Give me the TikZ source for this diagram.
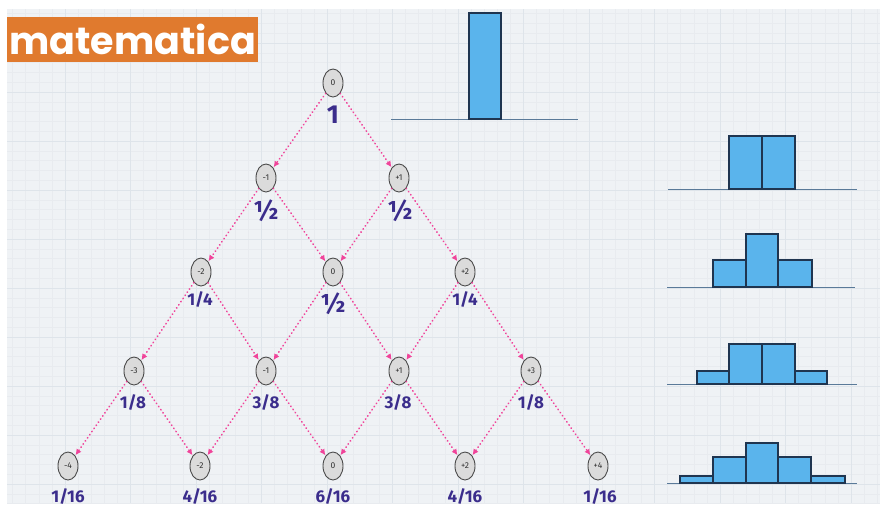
\documentclass[tikz,border=0pt]{standalone}
\usepackage{fontspec}
\setmainfont{Fira Sans}
\newfontfamily\logofont{Poppins}
\usetikzlibrary{shapes.geometric,arrows.meta}
\definecolor{paper}{HTML}{EFF2F5}
\definecolor{minorline}{HTML}{E8EBEF}
\definecolor{majorline}{HTML}{DEE4EA}
\definecolor{logoorange}{HTML}{E07A2E}
\definecolor{linkpink}{HTML}{F0449A}
\definecolor{probink}{HTML}{3B2D8C}
\definecolor{barfill}{HTML}{5AB4EC}
\definecolor{baredge}{HTML}{1F3550}
\definecolor{axisline}{HTML}{5A7A99}
\tikzset{
  site/.style={ellipse, draw=black!70, fill=black!14, line width=0.9pt,
    minimum width=20pt, minimum height=28pt, inner sep=0pt,
    font=\fontsize{8.5}{8.5}\selectfont, text=black!80},
  link/.style={draw=linkpink, line width=1.7pt, line cap=round,
    dash pattern=on 0.4pt off 3.4pt,
    -{Latex[length=6pt,width=6pt,fill=linkpink]}, shorten >=0.5pt},
  prob/.style={text=probink, font=\bfseries\fontsize{17}{17}\selectfont, inner sep=0pt},
  bigprob/.style={text=probink, font=\bfseries\fontsize{26}{26}\selectfont, inner sep=0pt},
  bar/.style={fill=barfill, draw=baredge, line width=1.1pt},
  axis/.style={draw=axisline, line width=1pt},
}
\begin{document}
\begin{tikzpicture}[x=1pt,y=-1pt]
\useasboundingbox (0,0) rectangle (880,507);
\fill[white] (0,0) rectangle (880,507);
% squared paper
\fill[paper] (7,9) rectangle (880,503);
\begin{scope}
  \clip (7,9) rectangle (880,503);
  \foreach \k in {-5,...,63}
    \draw[minorline, line width=0.5pt] ({65+13.1*\k},9) -- ({65+13.1*\k},503);
  \foreach \k in {-4,...,47}
    \draw[minorline, line width=0.5pt] (7,{43+9.8*\k}) -- (880,{43+9.8*\k});
  \foreach \k in {-1,...,12}
    \draw[majorline, line width=0.9pt] ({65+65.5*\k},9) -- ({65+65.5*\k},503);
  \foreach \k in {-1,...,9}
    \draw[majorline, line width=0.9pt] (7,{43+49*\k}) -- (880,{43+49*\k});
\end{scope}

% title tag
\node[fill=logoorange, minimum width=251pt, minimum height=45pt, inner sep=0pt,
      anchor=north west] (logo) at (7,17) {};
\node[text=white, font=\logofont\bfseries\fontsize{38}{38}\selectfont, inner sep=0pt]
  (logotext) at (logo.center) {matematica};

% random-walk lattice
\node[site] (n00) at (333,83) {0};
\node[site] (n10) at (266,178) {-1};
\node[site] (n11) at (399,178) {+1};
\node[site] (n20) at (201,272) {-2};
\node[site] (n21) at (333,272) {0};
\node[site] (n22) at (465,272) {+2};
\node[site] (n30) at (134,371) {-3};
\node[site] (n31) at (266,371) {-1};
\node[site] (n32) at (399,371) {+1};
\node[site] (n33) at (531,371) {+3};
\node[site] (n40) at (68,466) {-4};
\node[site] (n41) at (200,466) {-2};
\node[site] (n42) at (333,466) {0};
\node[site] (n43) at (465,466) {+2};
\node[site] (n44) at (598,466) {+4};

% each site steps left and right to the next row
\foreach \a/\b/\c in {00/10/11, 10/20/21, 11/21/22,
                      20/30/31, 21/31/32, 22/32/33,
                      30/40/41, 31/41/42, 32/42/43, 33/43/44} {
  \draw[link] (n\a) -- (n\b);
  \draw[link] (n\a) -- (n\c);
}

% probabilities
\node[bigprob] (p00) at (333,115) {1};
\node[bigprob] (p10) at (266,211) {½};
\node[bigprob] (p11) at (400,211) {½};
\node[prob] (p20) at (200,300) {1/4};
\node[bigprob] (p21) at (333,304) {½};
\node[prob] (p22) at (465,300) {1/4};
\node[prob] (p30) at (133,403) {1/8};
\node[prob] (p31) at (266,403) {3/8};
\node[prob] (p32) at (398,403) {3/8};
\node[prob] (p33) at (531,403) {1/8};
\node[prob] (p40) at (68,497) {1/16};
\node[prob] (p41) at (200,497) {4/16};
\node[prob] (p42) at (333,497) {6/16};
\node[prob] (p43) at (465,497) {4/16};
\node[prob] (p44) at (600,497) {1/16};

% histograms of the distribution after each step
\draw[axis] (391,119) -- (578,119);
\draw[bar] (469,119) rectangle (501,13);

\draw[axis] (668,189) -- (857,189);
\draw[bar] (729,189) rectangle (762,136);
\draw[bar] (762,189) rectangle (795,136);

\draw[axis] (667,287) -- (855,287);
\draw[bar] (713,287) rectangle (746,260);
\draw[bar] (746,287) rectangle (778,234);
\draw[bar] (778,287) rectangle (812,260);

\draw[axis] (667,384) -- (857,384);
\draw[bar] (697,384) rectangle (729,371);
\draw[bar] (729,384) rectangle (762,344);
\draw[bar] (762,384) rectangle (795,344);
\draw[bar] (795,384) rectangle (827,371);

\draw[axis] (667,483) -- (857,483);
\draw[bar] (680,483) rectangle (713,476);
\draw[bar] (713,483) rectangle (746,457);
\draw[bar] (746,483) rectangle (778,443);
\draw[bar] (778,483) rectangle (811,457);
\draw[bar] (811,483) rectangle (845,476);
\end{tikzpicture}
\end{document}
